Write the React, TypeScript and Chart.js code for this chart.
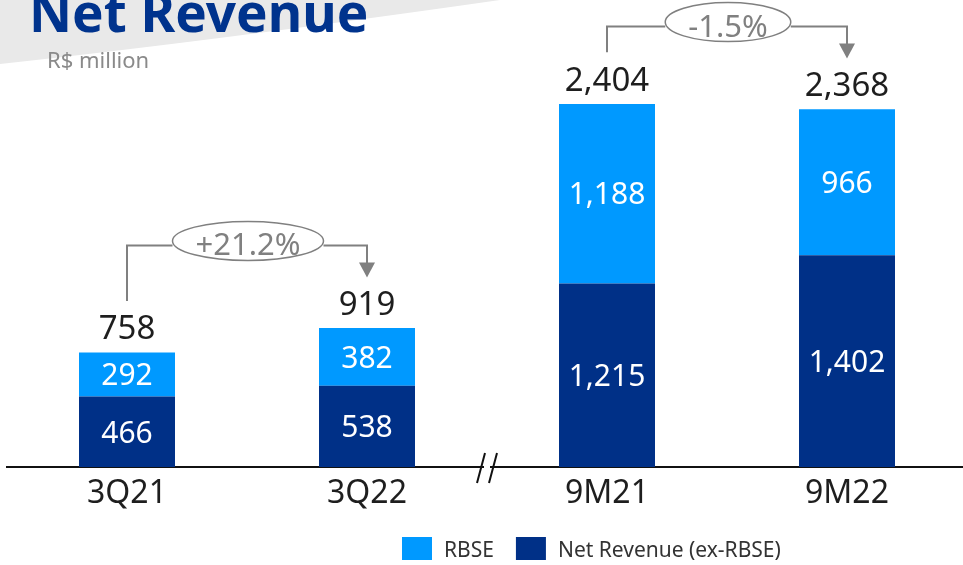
import React, { useEffect, useRef } from "react";
import { Chart, registerables } from "chart.js";

Chart.register(...registerables);

const categories = ["3Q21", "3Q22", "9M21", "9M22"];
const netRevenueExRBSE = [466, 538, 1215, 1402];
const rbse = [292, 382, 1188, 966];
const totals = [758, 919, 2404, 2368];
const changePairs = [
  [0, 1],
  [2, 3],
];
const changeLabels = ["+21.2%", "-1.5%"];
const titleText = "Net Revenue";
const subtitleText = "R$ million";
const breakAfterIndex = 1;

const LIGHT = "#0099FF";
const DARK = "#003087";
const FONT = "'Noto Sans', sans-serif";
const fmt = (v: number) => v.toLocaleString("en-US");

const overlayPlugin = {
  id: "overlay",
  beforeDraw(chart: any) {
    const ctx = chart.ctx;
    ctx.save();
    // gray swoosh
    ctx.fillStyle = "#e9e9e9";
    ctx.beginPath();
    ctx.moveTo(0, 0);
    ctx.lineTo(0, 64);
    ctx.quadraticCurveTo(220, 40, 500, 0);
    ctx.closePath();
    ctx.fill();
    // title
    ctx.fillStyle = "#00338D";
    ctx.font = `bold 53px ${FONT}`;
    ctx.textBaseline = "alphabetic";
    ctx.textAlign = "left";
    ctx.fillText(titleText, 29, 31.5);
    ctx.fillStyle = "#8a8a8a";
    ctx.font = `22px ${FONT}`;
    ctx.fillText(subtitleText, 47, 67.5);
    ctx.restore();
  },
  afterDraw(chart: any) {
    const ctx = chart.ctx;
    const xs = chart.scales.x;
    const area = chart.chartArea;
    ctx.save();
    // inner labels
    ctx.textAlign = "center";
    ctx.textBaseline = "alphabetic";
    chart.data.datasets.forEach((ds: any, di: number) => {
      const meta = chart.getDatasetMeta(di);
      meta.data.forEach((bar: any, j: number) => {
        const cy = (bar.y + bar.base) / 2;
        ctx.fillStyle = "#ffffff";
        ctx.font = `30px ${FONT}`;
        ctx.fillText(fmt(ds.data[j]), bar.x, cy + 0.357 * 30);
      });
    });
    // totals
    const topMeta = chart.getDatasetMeta(chart.data.datasets.length - 1);
    const labelTops: number[] = [];
    topMeta.data.forEach((bar: any, j: number) => {
      const baseY = bar.y - 13;
      ctx.fillStyle = "#1e1e1e";
      ctx.font = `33px ${FONT}`;
      ctx.fillText(fmt(totals[j]), bar.x, baseY);
      labelTops[j] = baseY - 0.714 * 33;
    });
    // change brackets
    ctx.strokeStyle = "#808080";
    ctx.fillStyle = "#808080";
    ctx.lineWidth = 2;
    changePairs.forEach((pair, k) => {
      const [a, b] = pair;
      const xa = topMeta.data[a].x;
      const xb = topMeta.data[b].x;
      const hy = labelTops[b] - 46;
      const lineBottom = labelTops[a] - 15;
      const tip = labelTops[b] - 14;
      ctx.font = `31px ${FONT}`;
      const tw = ctx.measureText(changeLabels[k]).width;
      const cx = (xa + xb) / 2 + 1;
      const rx = tw / 2 + 23;
      const ry = 19.5;
      const cy = hy - 4.5;
      ctx.beginPath();
      ctx.moveTo(xa, lineBottom);
      ctx.lineTo(xa, hy);
      ctx.lineTo(cx - rx, hy);
      ctx.stroke();
      ctx.beginPath();
      ctx.moveTo(cx + rx, hy);
      ctx.lineTo(xb, hy);
      ctx.lineTo(xb, tip - 14);
      ctx.stroke();
      ctx.beginPath();
      ctx.moveTo(xb - 8, tip - 15);
      ctx.lineTo(xb + 8, tip - 15);
      ctx.lineTo(xb, tip);
      ctx.closePath();
      ctx.fill();
      ctx.beginPath();
      ctx.ellipse(cx, cy, rx, ry, 0, 0, Math.PI * 2);
      ctx.fillStyle = "#ffffff";
      ctx.fill();
      ctx.lineWidth = 1.5;
      ctx.stroke();
      ctx.lineWidth = 2;
      ctx.fillStyle = "#808080";
      ctx.textAlign = "center";
      ctx.fillText(changeLabels[k], cx, hy - 1 + 0.357 * 31);
    });
    // axis break
    const mid =
      (xs.getPixelForValue(breakAfterIndex) + xs.getPixelForValue(breakAfterIndex + 1)) / 2;
    const by = area.bottom;
    ctx.fillStyle = "#ffffff";
    ctx.fillRect(mid - 3, by - 3, 6, 6);
    ctx.strokeStyle = "#111111";
    ctx.lineWidth = 2;
    ctx.beginPath();
    ctx.moveTo(mid - 10, by + 16);
    ctx.lineTo(mid - 2, by - 14);
    ctx.moveTo(mid + 2, by + 16);
    ctx.lineTo(mid + 10, by - 14);
    ctx.stroke();
    // legend
    const items = [...chart.data.datasets].reverse();
    let lx = 402;
    const ly = 537;
    ctx.font = `21px ${FONT}`;
    ctx.textAlign = "left";
    items.forEach((ds: any) => {
      ctx.fillStyle = ds.backgroundColor;
      ctx.fillRect(lx, ly, 30, 23);
      ctx.fillStyle = "#333333";
      ctx.fillText(ds.label, lx + 42, ly + 19.5);
      lx += 42 + ctx.measureText(ds.label).width + 22;
    });
    ctx.restore();
  },
};

export default function App() {
  const ref = useRef<HTMLCanvasElement>(null);
  useEffect(() => {
    if (!ref.current) return;
    const chart = new Chart(ref.current, {
      type: "bar",
      data: {
        labels: categories,
        datasets: [
          {
            label: "Net Revenue (ex-RBSE)",
            data: netRevenueExRBSE,
            backgroundColor: DARK,
            barPercentage: 0.4,
            categoryPercentage: 1,
          },
          {
            label: "RBSE",
            data: rbse,
            backgroundColor: LIGHT,
            barPercentage: 0.4,
            categoryPercentage: 1,
          },
        ],
      },
      options: {
        responsive: false,
        animation: false,
        devicePixelRatio: 1,
        layout: { padding: { left: 7, right: 3, top: 59, bottom: 0 } },
        plugins: { legend: { display: false }, tooltip: { enabled: false }, title: { display: false } },
        scales: {
          x: {
            stacked: true,
            grid: { display: false, drawTicks: false },
            border: { display: true, color: "#111111", width: 2 },
            ticks: { color: "#1e1e1e", font: { family: FONT, size: 32 }, padding: 8 },
            afterFit: (s: any) => {
              s.height = 98;
            },
          },
          y: {
            stacked: true,
            display: false,
            min: 0,
            max: 2700,
          },
        },
      },
      plugins: [overlayPlugin],
    });
    return () => chart.destroy();
  }, []);
  return (
    <div style={{ position: "absolute", left: 0, top: 0, width: 963, height: 565, overflow: "hidden", background: "#fff" }}>
      <canvas ref={ref} width={970} height={565} style={{ display: "block" }} />
    </div>
  );
}
